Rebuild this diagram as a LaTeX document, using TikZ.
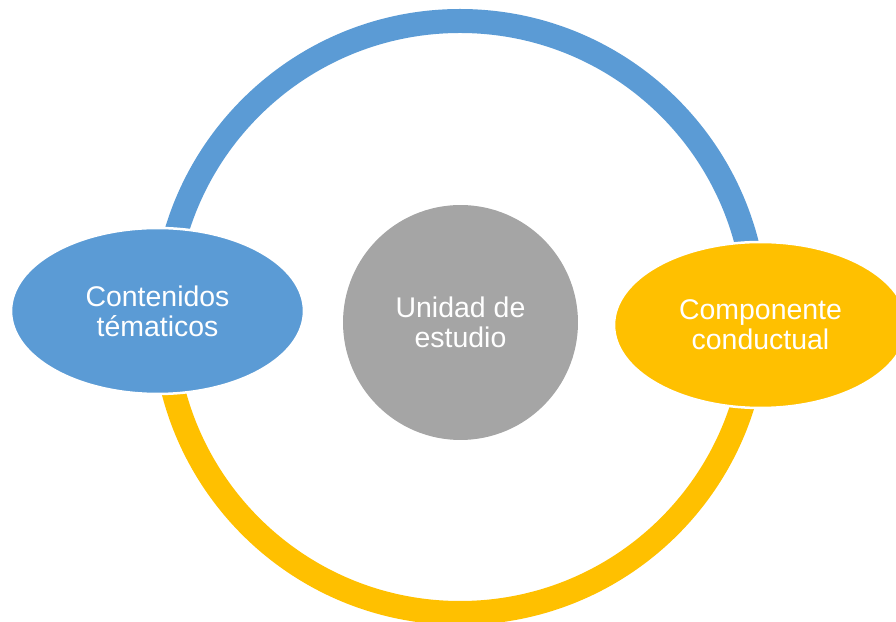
\documentclass[tikz,border=0pt]{standalone}
\usepackage{fontspec}
\setmainfont{Liberation Sans}
\usetikzlibrary{shapes.geometric}
\definecolor{ringblue}{HTML}{5B9BD5}
\definecolor{ringgold}{HTML}{FFC000}
\definecolor{coregray}{HTML}{A5A5A5}
\begin{document}
\begin{tikzpicture}[x=0.02cm, y=0.02cm,
    topic/.style={ellipse, draw=white, line width=0.05cm, minimum width=5.86cm, minimum height=3.32cm, inner sep=0pt, text=white, align=center, font=\fontsize{16.2}{17}\selectfont},
    core/.style={circle, fill=coregray, minimum size=4.7cm, inner sep=0pt, text=white, align=center, font=\fontsize{16.2}{17}\selectfont},
    ring/.style={line width=0.48cm}]
  \useasboundingbox (0,0) rectangle (896,622);
  \coordinate (hub) at (460,305);

  % the ring, blue over the top and gold underneath
  \draw[ring, ringblue] ([shift={(180:296)}]hub) arc[start angle=180, end angle=0, radius=296];
  \draw[ring, ringgold] ([shift={(0:296)}]hub) arc[start angle=0, end angle=-180, radius=296];

  \node[topic, fill=ringblue] (contenidos) at (157.5,311) {Contenidos\\ tématicos};
  \node[topic, fill=ringgold] (componente) at (760.5,297) {Componente\\ conductual};
  \node[core] (unidad) at (460.5,299.5) {Unidad de\\ estudio};
\end{tikzpicture}
\end{document}
